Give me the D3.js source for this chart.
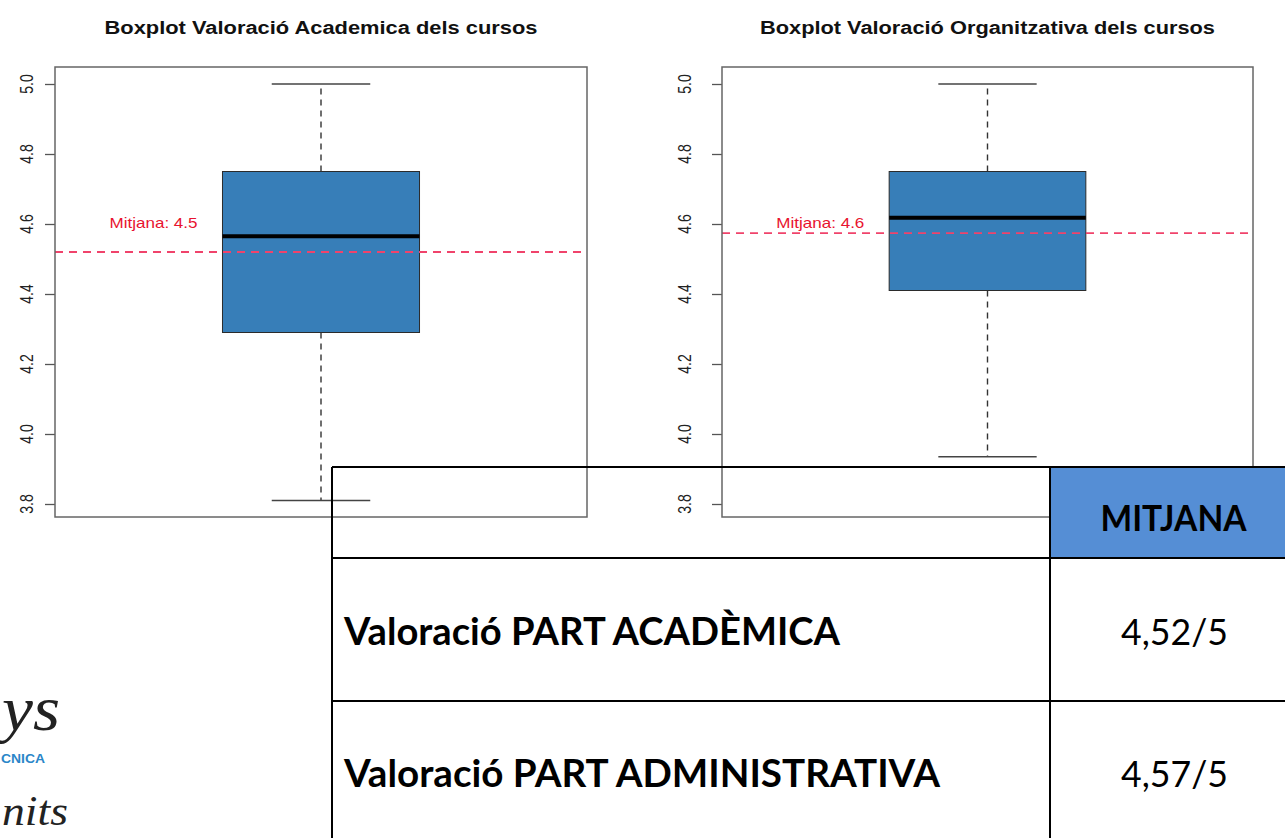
<!DOCTYPE html>
<html><head><meta charset="utf-8">
<script src="https://cdn.jsdelivr.net/npm/d3@7"></script>
<style>body{margin:0;background:#fff;overflow:hidden}svg{display:block}</style>
</head><body>
<svg id="c" width="1285" height="838"></svg>
<script>
// ---- data ----
const chartTitles = ["Boxplot Valoració Academica dels cursos", "Boxplot Valoració Organitzativa dels cursos"];
const lowWhisker = [3.81, 3.935];
const q1 = [4.29, 4.41];
const medians = [4.565, 4.618];
const q3 = [4.75, 4.75];
const highWhisker = [5.0, 5.0];
const means = [4.52, 4.574];
const meanLabels = ["Mitjana: 4.5", "Mitjana: 4.6"];
const yTicks = [3.8, 4.0, 4.2, 4.4, 4.6, 4.8, 5.0];
const tableHeader = "MITJANA";
const rowLabels = ["Valoració PART ACADÈMICA", "Valoració PART ADMINISTRATIVA"];
const rowValues = ["4,52/5", "4,57/5"];

const svg = d3.select("#c");
const panels = [
  {x0: 55, x1: 587, titleW: 433, labelCx: 26.5},
  {x0: 722, x1: 1253, titleW: 455, labelCx: 684}
];
const yScale = d3.scaleLinear().domain([3.8, 5.0]).range([504, 84]);
const yTop = yScale.invert(67), yBot = yScale.invert(517);

panels.forEach((p, i) => {
  const x = d3.scaleLinear().domain([0.46, 1.54]).range([p.x0, p.x1]);
  const y = yScale;
  const g = svg.append("g");
  // title
  g.append("text").attr("x", x(1)).attr("y", 34).attr("text-anchor", "middle")
    .attr("font-family", "Liberation Sans, Arial, sans-serif").attr("font-weight", "bold")
    .attr("font-size", 18).attr("fill", "#111")
    .attr("textLength", p.titleW).attr("lengthAdjust", "spacingAndGlyphs")
    .text(chartTitles[i]);
  // axis ticks
  const ax = g.append("g").attr("transform", `translate(${p.x0},0)`)
    .call(d3.axisLeft(y).tickValues(yTicks).tickSize(10).tickFormat(""));
  ax.select(".domain").remove();
  ax.selectAll("line").attr("stroke", "#555").attr("stroke-width", 1.3);
  // tick labels (rotated, horizontally stretched like the source)
  g.selectAll(".tl").data(yTicks).enter().append("text")
    .attr("transform", d => `translate(${p.labelCx},${y(d)}) scale(1.3,1) rotate(-90)`)
    .attr("text-anchor", "middle").attr("dy", "0.36em")
    .attr("font-family", "Liberation Sans, Arial, sans-serif").attr("font-size", 14)
    .attr("fill", "#222").text(d => d.toFixed(1));
  // box
  g.append("rect").attr("x", x(0.8)).attr("width", x(1.2) - x(0.8))
    .attr("y", y(q3[i])).attr("height", y(q1[i]) - y(q3[i]))
    .attr("fill", "#377EB8").attr("stroke", "#2b2b2b").attr("stroke-width", 1);
  // whiskers
  [[q3[i], highWhisker[i]], [q1[i], lowWhisker[i]]].forEach(([a, b]) => {
    g.append("line").attr("x1", x(1)).attr("x2", x(1)).attr("y1", y(a)).attr("y2", y(b))
      .attr("stroke", "#333").attr("stroke-width", 1.4).attr("stroke-dasharray", "6,5");
    g.append("line").attr("x1", x(0.9)).attr("x2", x(1.1)).attr("y1", y(b)).attr("y2", y(b))
      .attr("stroke", "#444").attr("stroke-width", 1.5);
  });
  // median
  g.append("line").attr("x1", x(0.8)).attr("x2", x(1.2)).attr("y1", y(medians[i])).attr("y2", y(medians[i]))
    .attr("stroke", "#000").attr("stroke-width", 4);
  // mean line
  g.append("line").attr("x1", x(0.46)).attr("x2", x(1.54)).attr("y1", y(means[i])).attr("y2", y(means[i]))
    .attr("stroke", "#f0436b").attr("stroke-width", 1.8).attr("stroke-dasharray", "8,6");
  g.append("text").attr("x", x(0.66)).attr("y", y(4.605)).attr("dy", "0.35em")
    .attr("text-anchor", "middle").attr("font-family", "Liberation Sans, Arial, sans-serif")
    .attr("font-size", 15).attr("fill", "#e8132f")
    .attr("textLength", 88).attr("lengthAdjust", "spacingAndGlyphs").text(meanLabels[i]);
  // frame
  g.append("rect").attr("x", x(0.46)).attr("y", y(yTop)).attr("width", x(1.54) - x(0.46))
    .attr("height", y(yBot) - y(yTop)).attr("fill", "none").attr("stroke", "#666").attr("stroke-width", 1.5);
});

// ---- logo fragments bottom-left ----
const logo = svg.append("g");
logo.append("text").attr("x", 2).attr("y", 730).attr("font-family", "Liberation Serif, serif")
  .attr("font-style", "italic").attr("font-size", 64).attr("fill", "#222")
  .attr("textLength", 58).attr("lengthAdjust", "spacingAndGlyphs").text("ys");
logo.append("text").attr("x", 1).attr("y", 763).attr("font-family", "Liberation Sans, Arial, sans-serif")
  .attr("font-weight", "bold").attr("font-size", 13).attr("fill", "#2a86c8")
  .attr("textLength", 44).attr("lengthAdjust", "spacingAndGlyphs").text("CNICA");
logo.append("text").attr("x", 2).attr("y", 825).attr("font-family", "Liberation Serif, serif")
  .attr("font-style", "italic").attr("font-size", 42).attr("fill", "#222")
  .attr("textLength", 66).attr("lengthAdjust", "spacingAndGlyphs").text("nits");

// ---- table overlay ----
const t = svg.append("g");
const colX = [332, 1050, 1297];
const rowY = [467, 558, 701, 844];
t.append("rect").attr("x", colX[1]).attr("y", rowY[0]).attr("width", colX[2] - colX[1])
  .attr("height", rowY[1] - rowY[0]).attr("fill", "#558ED5");
rowY.slice(0, 3).forEach(yy => t.append("line").attr("x1", colX[0]).attr("x2", 1290)
  .attr("y1", yy).attr("y2", yy).attr("stroke", "#000").attr("stroke-width", 2));
colX.slice(0, 2).forEach(xx => t.append("line").attr("x1", xx).attr("x2", xx)
  .attr("y1", rowY[0]).attr("y2", 840).attr("stroke", "#000").attr("stroke-width", 2));
t.append("text").attr("x", (colX[1] + colX[2]) / 2).attr("y", 531).attr("text-anchor", "middle")
  .attr("font-family", "Lato, sans-serif").attr("font-weight", "bold").attr("font-size", 37)
  .attr("fill", "#000").attr("textLength", 146).attr("lengthAdjust", "spacingAndGlyphs").text(tableHeader);
const labelW = [496, 596];
rowLabels.forEach((lab, i) => {
  const base = [645, 787][i];
  t.append("text").attr("x", 344).attr("y", base).attr("font-family", "Lato, sans-serif")
    .attr("font-weight", "bold").attr("font-size", 38).attr("fill", "#000")
    .attr("textLength", labelW[i]).attr("lengthAdjust", "spacingAndGlyphs").text(lab);
  t.append("text").attr("x", 1174.5).attr("y", base).attr("text-anchor", "middle")
    .attr("font-family", "Lato, sans-serif").attr("font-size", 37).attr("fill", "#000")
    .attr("textLength", 107).attr("lengthAdjust", "spacingAndGlyphs").text(rowValues[i]);
});
</script>
</body></html>
